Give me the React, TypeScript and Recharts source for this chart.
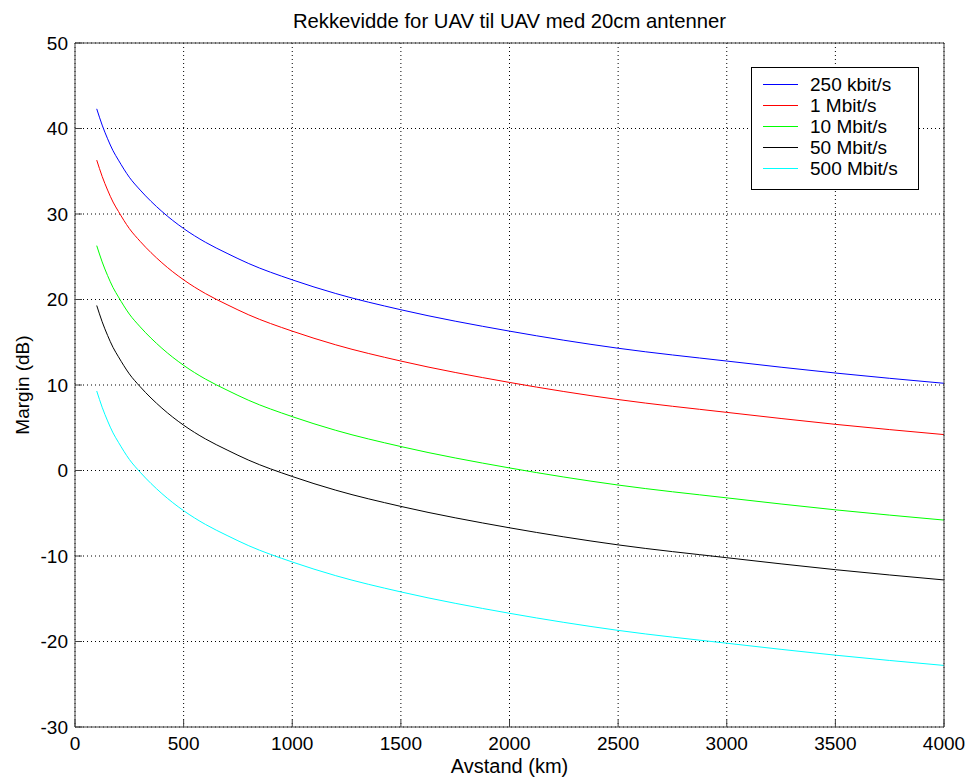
import React from 'react';
import { LineChart, Line, XAxis, YAxis, CartesianGrid, Legend } from 'recharts';

const distances = [100, 125, 150, 175, 200, 250, 300, 400, 500, 600, 700, 800, 1000, 1200, 1500, 2000, 2500, 3000, 3500, 4000];
const kbit250 = [42.3, 40.4, 38.8, 37.4, 36.3, 34.3, 32.8, 30.3, 28.3, 26.7, 25.4, 24.2, 22.3, 20.7, 18.8, 16.3, 14.3, 12.8, 11.4, 10.2];
const mbit1 = [36.3, 34.4, 32.8, 31.4, 30.3, 28.3, 26.8, 24.3, 22.3, 20.7, 19.4, 18.2, 16.3, 14.7, 12.8, 10.3, 8.3, 6.8, 5.4, 4.2];
const mbit10 = [26.3, 24.4, 22.8, 21.4, 20.3, 18.3, 16.8, 14.3, 12.3, 10.7, 9.4, 8.2, 6.3, 4.7, 2.8, 0.3, -1.7, -3.2, -4.6, -5.8];
const mbit50 = [19.3, 17.4, 15.8, 14.4, 13.3, 11.3, 9.8, 7.3, 5.3, 3.7, 2.4, 1.2, -0.7, -2.3, -4.2, -6.7, -8.7, -10.2, -11.6, -12.8];
const mbit500 = [9.3, 7.4, 5.8, 4.4, 3.3, 1.3, -0.2, -2.7, -4.7, -6.3, -7.6, -8.8, -10.7, -12.3, -14.2, -16.7, -18.7, -20.2, -21.6, -22.8];

const xTicks = [0, 500, 1000, 1500, 2000, 2500, 3000, 3500, 4000];
const yTicks = [-30, -20, -10, 0, 10, 20, 30, 40, 50];

const seriesNames = ['250 kbit/s', '1 Mbit/s', '10 Mbit/s', '50 Mbit/s', '500 Mbit/s'];
const seriesKeys = ['k250', 'm1', 'm10', 'm50', 'm500'];
const seriesColors = ['#0000ff', '#ff0000', '#00ff00', '#000000', '#00ffff'];
const seriesValues = [kbit250, mbit1, mbit10, mbit50, mbit500];

const data = distances.map((d, i) => {
  const row: Record<string, number> = { d };
  seriesKeys.forEach((k, s) => {
    row[k] = seriesValues[s][i];
  });
  return row;
});

const FONT = '"Liberation Sans", Arial, Helvetica, sans-serif';
const AXIS = '#404040';

const LegendBox = () => (
  <div
    style={{
      border: '1px solid #000',
      background: '#fff',
      padding: '6px 10px 10px 11px',
      width: 145,
      fontFamily: FONT,
      fontSize: 19,
      color: '#000',
    }}
  >
    {seriesNames.map((name, s) => (
      <div key={name} style={{ display: 'flex', alignItems: 'center', height: 21 }}>
        <div style={{ width: 35, height: 1, background: seriesColors[s], marginRight: 12 }} />
        <span style={{ whiteSpace: 'nowrap', lineHeight: '21px' }}>{name}</span>
      </div>
    ))}
  </div>
);

export default function App() {
  const tickStyle = { fill: '#000', fontSize: 19, fontFamily: FONT };
  return (
    <div style={{ position: 'absolute', left: 0, top: 0, width: 968, height: 778, background: '#fff', fontFamily: FONT }}>
      <div
        style={{
          position: 'absolute',
          left: 75,
          width: 869,
          top: 11,
          textAlign: 'center',
          fontSize: 20.3,
          lineHeight: '20px',
          color: '#000',
          whiteSpace: 'nowrap',
        }}
      >
        Rekkevidde for UAV til UAV med 20cm antenner
      </div>
      <div
        style={{
          position: 'absolute',
          left: 75,
          width: 869,
          top: 756,
          textAlign: 'center',
          fontSize: 20,
          lineHeight: '20px',
          color: '#000',
          whiteSpace: 'nowrap',
        }}
      >
        Avstand (km)
      </div>
      <div
        style={{
          position: 'absolute',
          left: 23,
          top: 385,
          transform: 'translate(-50%, -50%) rotate(-90deg)',
          fontSize: 19,
          lineHeight: '20px',
          color: '#000',
          whiteSpace: 'nowrap',
        }}
      >
        Margin (dB)
      </div>
      <LineChart
        width={968}
        height={778}
        data={data}
        margin={{ top: 42, right: 23, bottom: 50, left: 74 }}
        style={{ position: 'absolute', left: 0, top: 0 }}
      >
        <CartesianGrid stroke="#000" strokeDasharray="1 3" horizontalValues={yTicks} verticalValues={xTicks} />
        <XAxis
          dataKey="d"
          type="number"
          domain={[0, 4000]}
          ticks={xTicks}
          height={1}
          tickSize={-7}
          tickMargin={17}
          tick={tickStyle}
          stroke={AXIS}
          axisLine={{ stroke: AXIS }}
          tickLine={{ stroke: AXIS }}
          interval={0}
        />
        <XAxis
          xAxisId="top"
          orientation="top"
          dataKey="d"
          type="number"
          domain={[0, 4000]}
          ticks={xTicks}
          height={1}
          tickSize={-7}
          tick={false}
          stroke={AXIS}
          axisLine={{ stroke: AXIS }}
          tickLine={{ stroke: AXIS }}
          interval={0}
        />
        <YAxis
          type="number"
          domain={[-30, 50]}
          ticks={yTicks}
          width={1}
          tickSize={-7}
          tickMargin={14}
          tick={tickStyle}
          stroke={AXIS}
          axisLine={{ stroke: AXIS }}
          tickLine={{ stroke: AXIS }}
          interval={0}
        />
        <YAxis
          yAxisId="right"
          orientation="right"
          type="number"
          domain={[-30, 50]}
          ticks={yTicks}
          width={1}
          tickSize={-7}
          tick={false}
          stroke={AXIS}
          axisLine={{ stroke: AXIS }}
          tickLine={{ stroke: AXIS }}
          interval={0}
        />
        {seriesKeys.map((k, s) => (
          <Line
            key={k}
            dataKey={k}
            name={seriesNames[s]}
            stroke={seriesColors[s]}
            strokeWidth={1}
            dot={false}
            type="monotone"
            isAnimationActive={false}
          />
        ))}
        <Legend
          layout="vertical"
          align="center"
          verticalAlign="middle"
          content={<LegendBox />}
          wrapperStyle={{ position: 'absolute', left: 751, top: 67, width: 'auto', height: 'auto' }}
        />
      </LineChart>
    </div>
  );
}
